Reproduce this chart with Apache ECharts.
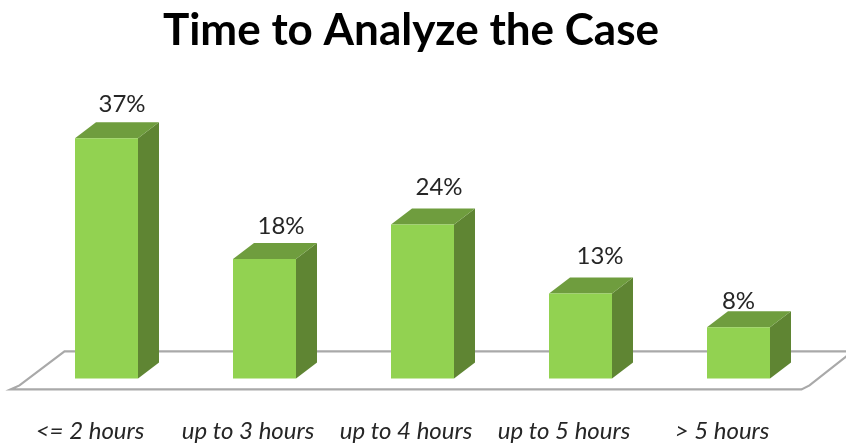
<!DOCTYPE html>
<html><head><meta charset="utf-8">
<style>html,body{margin:0;padding:0;background:#fff}#c{width:846px;height:446px}</style>
<script src="https://cdn.jsdelivr.net/npm/echarts@6/dist/echarts.min.js"></script>
</head><body><div id="c"></div>
<script>
const chartTitle = 'Time to Analyze the Case';
const categories = ['<= 2 hours', 'up to 3 hours', 'up to 4 hours', 'up to 5 hours', '> 5 hours'];
const values = [37, 18.4, 23.7, 13.1, 7.9];
const valueLabels = ['37%', '18%', '24%', '13%', '8%'];
const labelNudgeX = [15.5, 16.5, 16.5, 19.5, 0];
const labelNudgeY = [-18, -17, -21, -21, -10];

const DX = 21, DY = 16, BAR_W = 63;
const FONT = 'Lato, "Open Sans", sans-serif';
const chart = echarts.init(document.getElementById('c'), null, {renderer: 'canvas'});

function renderBar(params, api) {
  const i = api.value(0);
  const top = api.coord([i, api.value(1)]);
  const base = api.coord([i, 0]);
  const x0 = top[0] - BAR_W / 2, x1 = top[0] + BAR_W / 2, yT = top[1], yB = base[1];
  return {type: 'group', children: [
    {type: 'polygon', shape: {points: [[x1, yT], [x1 + DX, yT - DY], [x1 + DX, yB - DY], [x1, yB]]},
     style: {fill: '#5f8533'}},
    {type: 'polygon', shape: {points: [[x0, yT], [x0 + DX, yT - DY], [x1 + DX, yT - DY], [x1, yT]]},
     style: {fill: '#6f9d3e'}},
    {type: 'rect', shape: {x: x0, y: yT, width: BAR_W, height: yB - yT},
     style: {fill: '#92d251'}},
    {type: 'text', x: top[0] + labelNudgeX[i], y: yT - DY + labelNudgeY[i],
     style: {text: valueLabels[i], fill: '#262626', font: '24px ' + FONT, align: 'center', verticalAlign: 'middle'}}
  ]};
}

function renderFloor(params, api) {
  const c = params.coordSys, b = c.y + c.height, l = c.x, r = c.x + c.width;
  return {type: 'polyline', silent: true, shape: {points: [
    [r + 30, b - 27], [l + 37, b - 27], [l - 8, b + 7], [l - 17, b + 11], [r - 16, b + 11], [r - 8, b + 7], [r + 30, b - 23]
  ]}, style: {fill: null, stroke: '#a9a9a9', lineWidth: 2.2}};
}

chart.setOption({
  animation: false,
  backgroundColor: '#fff',
  title: {text: chartTitle, left: 406, top: 4, textAlign: 'center',
    textStyle: {fontFamily: FONT, fontWeight: 'bold', fontSize: 44, color: '#000'}},
  grid: {left: 27.5, width: 790, top: 118.8, height: 259.6},
  xAxis: {type: 'category', data: categories,
    axisLine: {show: false}, axisTick: {show: false},
    axisLabel: {fontFamily: FONT, fontStyle: 'italic', fontSize: 24, color: '#262626', margin: 41, interval: 0, padding: [0, 33, 0, 0]}},
  yAxis: {type: 'value', min: 0, max: 40, show: false, splitLine: {show: false}},
  series: [
    {type: 'custom', renderItem: renderFloor, data: [[0]], z: 1, silent: true},
    {type: 'custom', renderItem: renderBar, data: values.map((v, i) => [i, v]), encode: {x: 0, y: 1}, z: 2}
  ]
});
</script></body></html>
